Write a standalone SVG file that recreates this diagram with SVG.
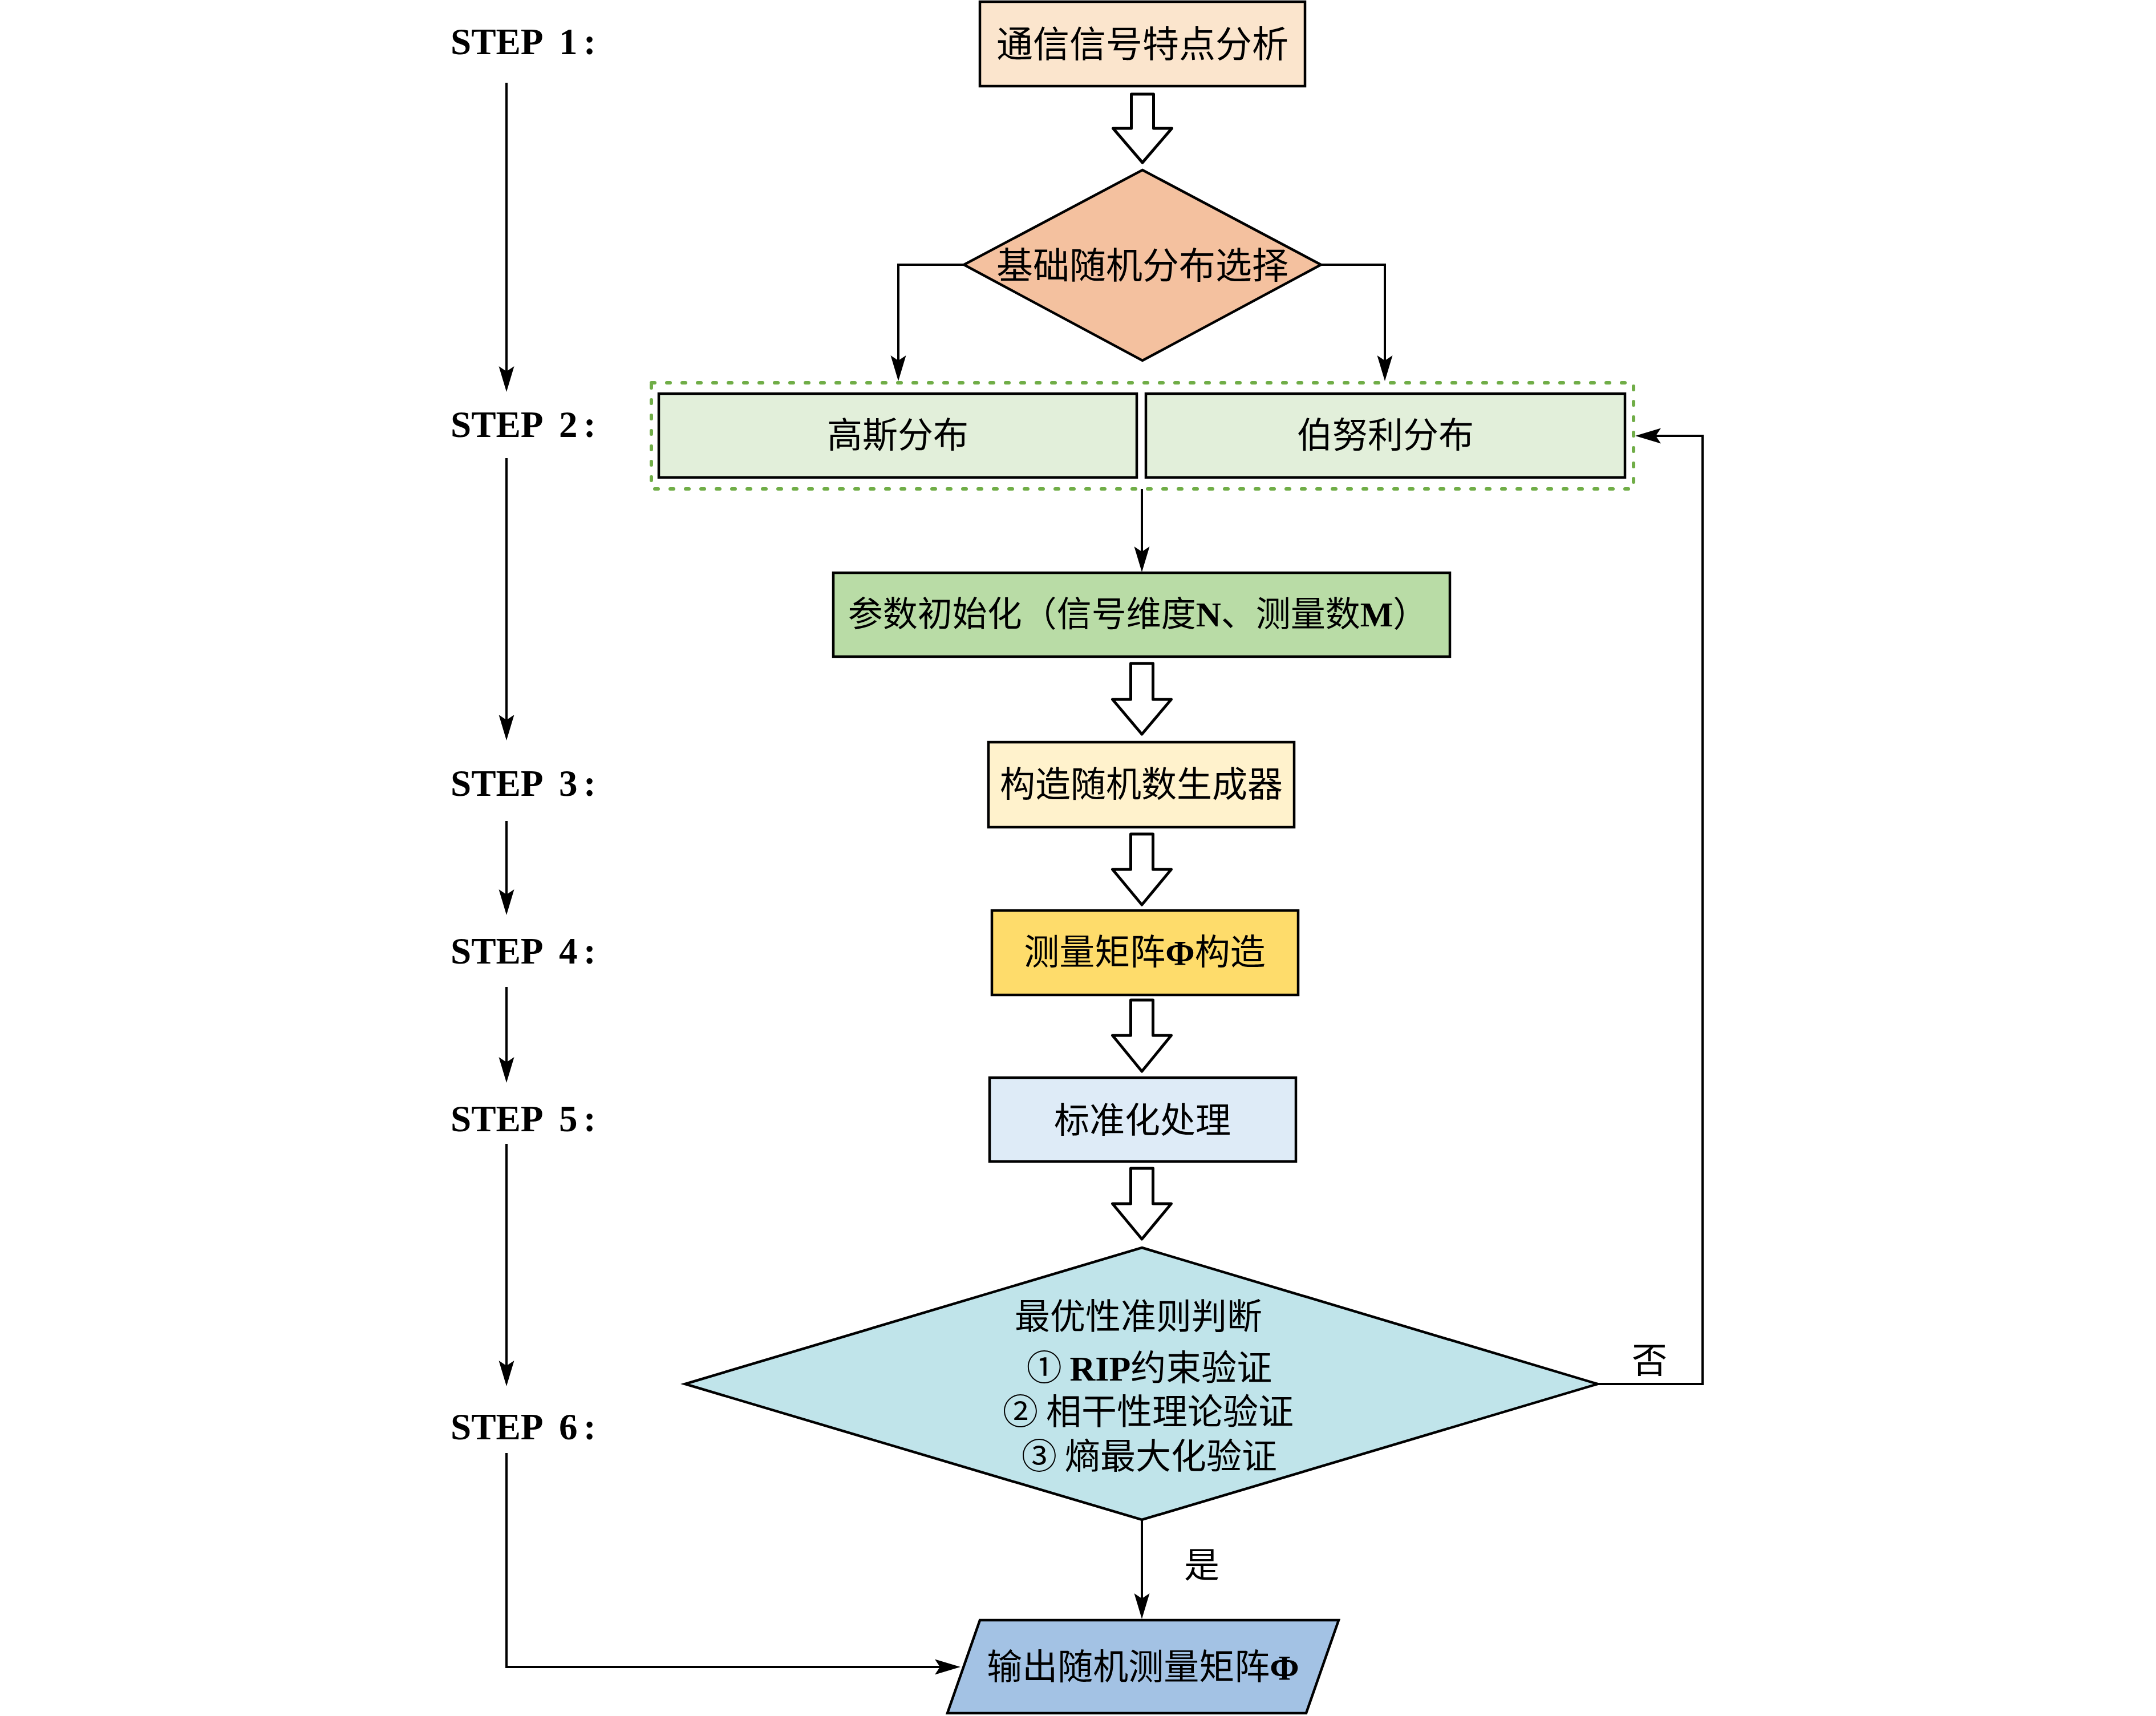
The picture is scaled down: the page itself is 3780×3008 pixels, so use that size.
<svg xmlns="http://www.w3.org/2000/svg" width="3780" height="3008" viewBox="0 0 3780 3008">
<style>
.box{stroke:#000;stroke-width:4.5}
.cjk{font-family:"Noto Sans CJK SC","Noto Sans CJK JP",sans-serif;font-size:62px;fill:#000}
.lat{font-family:"Liberation Serif",serif;font-weight:bold}
.step{font-family:"Liberation Serif",serif;font-weight:bold;font-size:65px;fill:#000}
.conn{fill:none;stroke:#000;stroke-width:4}
.hollow{fill:#fff;stroke:#000;stroke-width:5;stroke-linejoin:round}
</style>
<defs>
<marker id="ah" markerUnits="userSpaceOnUse" viewBox="0 -14 46 28" refX="37" refY="0" markerWidth="46" markerHeight="28" orient="auto">
<path d="M0,-13.5 L45,0 L0,13.5 L9,0 Z" fill="#000"/>
</marker>
</defs>
<rect width="3780" height="3008" fill="#fff"/>

<g id="steps">
<text class="step" x="790" y="95">STEP <tspan x="980">1</tspan><tspan x="1023">:</tspan></text>
<text class="step" x="790" y="766">STEP <tspan x="980">2</tspan><tspan x="1023">:</tspan></text>
<text class="step" x="790" y="1395">STEP <tspan x="980">3</tspan><tspan x="1023">:</tspan></text>
<text class="step" x="790" y="1689">STEP <tspan x="980">4</tspan><tspan x="1023">:</tspan></text>
<text class="step" x="790" y="1983">STEP <tspan x="980">5</tspan><tspan x="1023">:</tspan></text>
<text class="step" x="790" y="2523">STEP <tspan x="980">6</tspan><tspan x="1023">:</tspan></text>
</g>

<g id="connectors">
<line class="conn" x1="888" y1="145" x2="888" y2="679" marker-end="url(#ah)"/>
<line class="conn" x1="888" y1="803" x2="888" y2="1290" marker-end="url(#ah)"/>
<line class="conn" x1="888" y1="1439" x2="888" y2="1596" marker-end="url(#ah)"/>
<line class="conn" x1="888" y1="1730" x2="888" y2="1890" marker-end="url(#ah)"/>
<line class="conn" x1="888" y1="2005" x2="888" y2="2422" marker-end="url(#ah)"/>
<polyline class="conn" points="888,2547 888,2922 1676,2922" marker-end="url(#ah)"/>
<polyline class="conn" points="1690,464 1575,464 1575,660" marker-end="url(#ah)"/>
<polyline class="conn" points="2316,464 2428,464 2428,660" marker-end="url(#ah)"/>
<line class="conn" x1="2002" y1="857" x2="2002" y2="995" marker-end="url(#ah)"/>
<polyline class="conn" points="2801,2426 2985,2426 2985,764 2875,764" marker-end="url(#ah)"/>
<line class="conn" x1="2002" y1="2664" x2="2002" y2="2830" marker-end="url(#ah)"/>
<path class="hollow" d="M1983.5,165 H2022.5 V225 H2054.5 L2003,285 L1951.5,225 H1983.5 Z"/>
<path class="hollow" d="M1982.5,1163 H2021.5 V1226 H2053.5 L2002,1287 L1950.5,1226 H1982.5 Z"/>
<path class="hollow" d="M1982.5,1462 H2021.5 V1524 H2053.5 L2002,1586 L1950.5,1524 H1982.5 Z"/>
<path class="hollow" d="M1982.5,1753 H2021.5 V1815 H2053.5 L2002,1878 L1950.5,1815 H1982.5 Z"/>
<path class="hollow" d="M1982.5,2048 H2021.5 V2110 H2053.5 L2002,2172 L1950.5,2110 H1982.5 Z"/>
<text class="cjk" x="2892" y="2407" text-anchor="middle">否</text>
<text class="cjk" x="2107" y="2766" text-anchor="middle">是</text>
</g>

<g id="node-analysis">
<rect class="box" x="1718" y="3" width="570" height="148" fill="#fbe5cd"/>
<text class="cjk" x="2003" y="100" text-anchor="middle" style="font-size:64px">通信信号特点分析</text>
</g>

<g id="node-select">
<polygon class="box" points="2003,298 2316,464 2003,632 1690,464" fill="#f4c19f"/>
<text class="cjk" x="2003" y="488" text-anchor="middle" style="font-size:64px">基础随机分布选择</text>
</g>

<g id="node-group">
<rect x="1142" y="671" width="1722" height="186" fill="none" stroke="#70ad47" stroke-width="6" stroke-dasharray="6 21" stroke-linecap="round"/>
</g>

<g id="node-gauss">
<rect class="box" x="1155" y="690" width="838" height="147" fill="#e2efda"/>
<text class="cjk" x="1574" y="785" text-anchor="middle">高斯分布</text>
</g>

<g id="node-bernoulli">
<rect class="box" x="2009" y="690" width="840" height="147" fill="#e2efda"/>
<text class="cjk" x="2429" y="785" text-anchor="middle">伯努利分布</text>
</g>

<g id="node-param">
<rect class="box" x="1461" y="1004" width="1081" height="147" fill="#b9dca6"/>
<text class="cjk" x="1995" y="1098" text-anchor="middle" style="font-size:61px">参数初始化（信号维度<tspan class="lat">N</tspan>、测量数<tspan class="lat">M</tspan>）</text>
</g>

<g id="node-generator">
<rect class="box" x="1733" y="1301" width="536" height="149" fill="#fff2cc"/>
<text class="cjk" x="2001" y="1397" text-anchor="middle">构造随机数生成器</text>
</g>

<g id="node-matrix">
<rect class="box" x="1739" y="1596" width="537" height="148" fill="#fedc6b"/>
<text class="cjk" x="2007" y="1691" text-anchor="middle">测量矩阵<tspan class="lat">Φ</tspan>构造</text>
</g>

<g id="node-normalize">
<rect class="box" x="1735" y="1889" width="537" height="147" fill="#deebf7"/>
<text class="cjk" x="2003" y="1986" text-anchor="middle">标准化处理</text>
</g>

<g id="node-judge">
<polygon class="box" points="2002,2187 2801,2426 2002,2664 1201,2426" fill="#c0e4ea"/>
<text class="cjk" text-anchor="middle"><tspan x="1996" y="2330">最优性准则判断</tspan><tspan x="2015" y="2420">① <tspan class="lat">RIP</tspan>约束验证</tspan><tspan x="2013" y="2497">② 相干性理论验证</tspan><tspan x="2015" y="2575">③ 熵最大化验证</tspan></text>
</g>

<g id="node-output">
<polygon class="box" points="1718,2840 2347,2840 2290,3003 1661,3003" fill="#a3c2e4"/>
<text class="cjk" x="2004" y="2944" text-anchor="middle">输出随机测量矩阵<tspan class="lat">Φ</tspan></text>
</g>
</svg>
